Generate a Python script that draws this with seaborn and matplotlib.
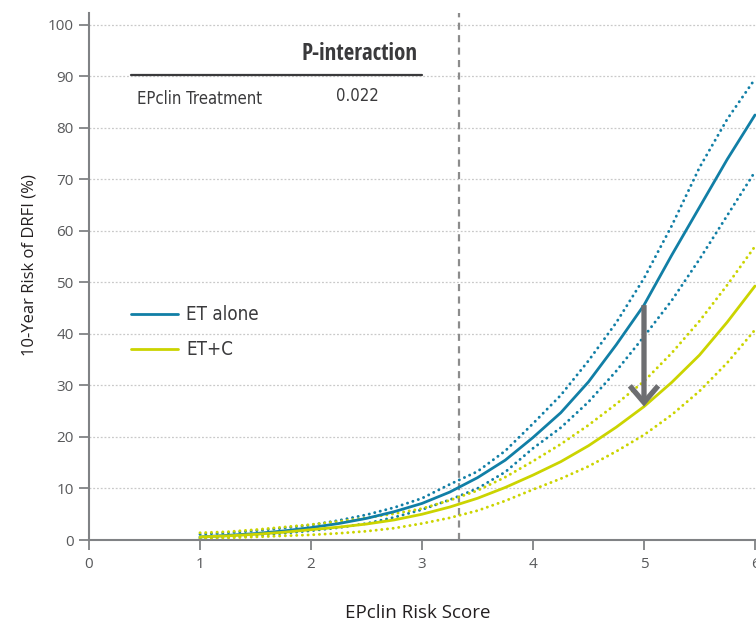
import numpy as np
import pandas as pd
import seaborn as sns
import matplotlib.pyplot as plt
from matplotlib import font_manager as fm

# ---------------- data ----------------
score = [1.00, 1.25, 1.50, 1.75, 2.00, 2.25, 2.50, 2.75, 3.00, 3.25, 3.50,
         3.75, 4.00, 4.25, 4.50, 4.75, 5.00, 5.25, 5.50, 5.75, 6.00]

et_alone = [0.6, 0.9, 1.25, 1.75, 2.4, 3.2, 4.2, 5.5, 7.1, 9.3, 12.1,
            15.5, 19.9, 24.7, 30.7, 37.9, 45.6, 55.3, 64.6, 73.9, 82.5]
et_alone_hi = [1.1, 1.4, 1.8, 2.3, 2.9, 3.8, 4.9, 6.3, 8.1, 10.8, 13.3,
               17.3, 22.6, 28.1, 34.8, 42.2, 50.8, 61.0, 72.3, 81.7, 89.5]
et_alone_lo = [0.4, 0.6, 0.9, 1.3, 1.8, 2.4, 3.2, 4.4, 5.9, 7.8, 10.0,
               13.2, 17.8, 21.8, 26.8, 32.8, 39.5, 46.5, 54.5, 63.0, 71.5]

et_c = [0.6, 0.8, 1.1, 1.5, 2.0, 2.5, 3.1, 3.9, 5.0, 6.4, 8.1,
        10.2, 12.6, 15.2, 18.3, 21.9, 25.9, 30.6, 35.9, 42.3, 49.3]
et_c_hi = [1.4, 1.6, 2.0, 2.5, 3.0, 3.6, 4.3, 5.1, 6.1, 7.7, 9.6,
           12.2, 15.3, 18.6, 22.3, 26.4, 30.8, 36.3, 42.5, 49.5, 57.0]
et_c_lo = [0.3, 0.4, 0.6, 0.8, 1.0, 1.3, 1.7, 2.3, 3.2, 4.3, 5.7,
           7.6, 9.8, 11.9, 14.3, 17.2, 20.4, 24.3, 28.9, 34.4, 40.8]

groups = ["ET alone", "ET+C"]
cutoff = 3.33
arrow_score = 5.0
p_label = "P-interaction"
p_row = "EPclin Treatment"
p_value = "0.022"
y_ticks = [0, 10, 20, 30, 40, 50, 60, 70, 80, 90, 100]
x_ticks = [0, 1, 2, 3, 4, 5, 6]

# ---------------- styling ----------------
BLUE = "#117fa6"
YELLOW = "#cbd400"
GRAY_TXT = "#58595b"
AX_GRAY = "#808285"
ARROW = "#6d6e71"
TXT = "#3a3a3c"

sns.set_theme(style="white")
plt.rcParams["font.family"] = ["Open Sans", "DejaVu Sans"]


def _is_bold(w):
    if isinstance(w, (int, float)):
        return w >= 600
    return str(w).lower() in ("bold", "semibold", "demibold", "heavy", "black", "extra bold")


def find_condensed(bold):
    prefs = ["liberation sans narrow", "open sans condensed", "noto sans",
             "dejavu sans", "roboto condensed", "roboto", "lato", "inter"]
    best = None
    for f in fm.fontManager.ttflist:
        base = f.fname.split("/")[-1].lower()
        st = str(f.stretch).lower()
        cond = ("narrow" in f.name.lower() or "narrow" in base or
                ("condensed" in base and "semi" not in base and "extra" not in base
                 and "ultra" not in base) or st == "condensed")
        if not cond:
            continue
        if "italic" in base or "oblique" in base or str(f.style) != "normal":
            continue
        if _is_bold(f.weight) != bold:
            continue
        if not bold and isinstance(f.weight, int) and f.weight < 350:
            continue
        rank = len(prefs)
        for i, p in enumerate(prefs):
            if f.name.lower().startswith(p):
                rank = i
                break
        if best is None or rank < best[0]:
            best = (rank, f.fname)
    return best[1] if best else None


_reg = find_condensed(False)
_bld = find_condensed(True)
if _reg:
    FP_REG = fm.FontProperties(fname=_reg)
    S_ROW, S_LEG = 12, 13.5
else:
    FP_REG = fm.FontProperties(family=["Roboto", "DejaVu Sans"])
    S_ROW, S_LEG = 11, 12.5
if _bld:
    FP_BLD = fm.FontProperties(fname=_bld)
    S_HEAD = 16.5
else:
    FP_BLD = fm.FontProperties(family=["Roboto", "DejaVu Sans"], weight="bold")
    S_HEAD = 12.5

df = pd.DataFrame({
    "score": score * 2,
    "risk": et_alone + et_c,
    "lo": et_alone_lo + et_c_lo,
    "hi": et_alone_hi + et_c_hi,
    "group": [groups[0]] * len(score) + [groups[1]] * len(score),
})
palette = {groups[0]: BLUE, groups[1]: YELLOW}

fig = plt.figure(figsize=(7.56, 6.23), dpi=100)
ax = fig.add_axes([89 / 756, 83 / 623, 721.5 / 756, 527 / 623])

# grid
for yv in y_ticks[1:]:
    ax.axhline(yv, color="#c9c9c9", lw=0.9, ls=(0, (1.5, 1.5)), zorder=0)

# vertical cutoff
ax.axvline(cutoff, color="#8c8c8c", lw=1.6, ls=(0, (3.2, 2.4)), zorder=1)

# confidence bounds
dot = (0, (0.05, 1.9))
for col in ["lo", "hi"]:
    sns.lineplot(data=df, x="score", y=col, hue="group", palette=palette,
                 ax=ax, lw=2.1, legend=False, zorder=2,
                 linestyle=dot, dash_capstyle="round")

# estimates
sns.lineplot(data=df, x="score", y="risk", hue="group", palette=palette,
             ax=ax, lw=2.0, zorder=3)

# arrow between the two estimates at score 5
i5 = score.index(arrow_score)
ax.annotate("", xy=(arrow_score, et_c[i5]), xytext=(arrow_score, et_alone[i5]),
            arrowprops=dict(arrowstyle="->,head_length=1.0,head_width=0.85",
                            lw=3.8, color=ARROW, shrinkA=0, shrinkB=0,
                            joinstyle="miter", capstyle="butt"),
            zorder=5)

# axes
ax.set_xlim(0, 6.5)
ax.set_ylim(0, 102.3)
ax.set_xticks(x_ticks)
ax.set_yticks(y_ticks)
ax.tick_params(axis="both", which="major", length=7, width=1.3, color=AX_GRAY,
               labelcolor=GRAY_TXT, labelsize=11, direction="out")
ax.tick_params(axis="x", pad=5, bottom=True)
ax.tick_params(axis="y", pad=4, left=True)
for s in ["top", "right"]:
    ax.spines[s].set_visible(False)
for s in ["left", "bottom"]:
    ax.spines[s].set_color(AX_GRAY)
    ax.spines[s].set_linewidth(1.5)

ax.set_xlabel("EPclin Risk Score", fontsize=13.5, color="#231f20")
ax.set_ylabel("10-Year Risk of DRFI (%)", fontsize=12, color="#231f20")
ax.xaxis.set_label_coords(0.455, -0.122)
ax.yaxis.set_label_coords(-0.072, 0.522)

# legend
h, l = ax.get_legend_handles_labels()
FP_LEG = FP_REG.copy()
FP_LEG.set_size(S_LEG)
leg = ax.legend(h, l, loc="upper left", bbox_to_anchor=(0.058, 0.445),
                frameon=False, handlelength=2.5, handletextpad=0.45,
                labelspacing=0.85, borderpad=0, borderaxespad=0,
                prop=FP_LEG)
for t in leg.get_texts():
    t.set_color(TXT)

# p-interaction table
ax.text(2.44, 94.3, p_label, ha="center", va="center", fontproperties=FP_BLD,
        fontsize=S_HEAD, color=TXT)
ax.plot([0.38, 3.0], [90.2, 90.2], color=TXT, lw=1.6)
ax.text(0.43, 85.6, p_row, ha="left", va="center", fontproperties=FP_REG,
        fontsize=S_ROW, color=TXT)
ax.text(2.42, 86.2, p_value, ha="center", va="center", fontproperties=FP_REG,
        fontsize=S_ROW, color=TXT)

fig.savefig("out.png", dpi=100)
